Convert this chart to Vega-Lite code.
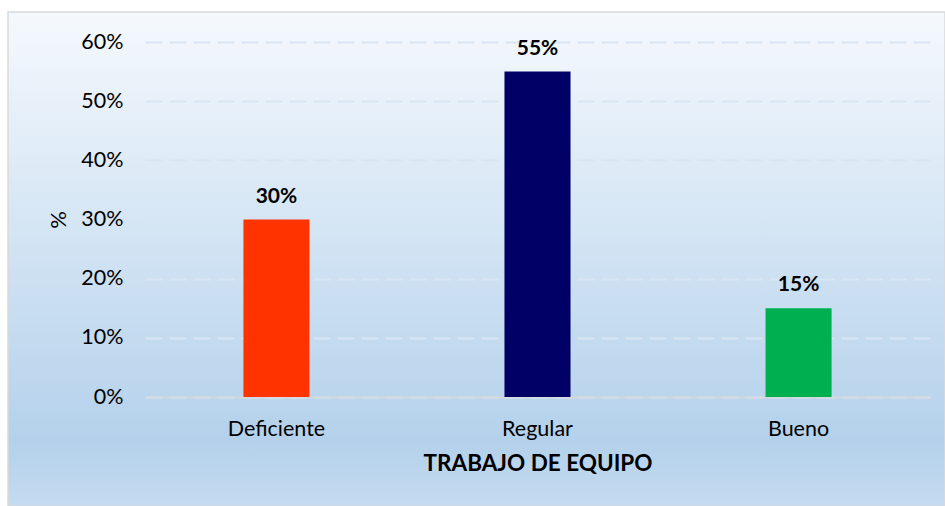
{
  "$schema": "https://vega.github.io/schema/vega-lite/v6.json",
  "autosize": "none",
  "width": 937,
  "height": 494,
  "padding": {"left": 8, "top": 12, "right": 0, "bottom": 0},
  "background": "white",
  "data": {
    "values": [
      {"categoria": "Deficiente", "valor": 0.30},
      {"categoria": "Regular", "valor": 0.55},
      {"categoria": "Bueno", "valor": 0.15}
    ]
  },
  "encoding": {
    "x": {
      "field": "categoria",
      "type": "nominal",
      "sort": null,
      "scale": {"range": [137, 922], "paddingInner": 0.747, "paddingOuter": 0.377},
      "axis": {
        "title": "TRABAJO DE EQUIPO",
        "orient": "bottom",
        "offset": -109,
        "labelAngle": 0,
        "ticks": false,
        "domain": true,
        "domainColor": "#d9d9d9",
        "domainWidth": 1.5,
        "labelPadding": 21,
        "labelFont": "Lato",
        "labelFontSize": 21.5,
        "labelColor": "#000000",
        "titleFont": "Lato",
        "titleFontSize": 22.5,
        "titleFontWeight": "bold",
        "titleColor": "#000000",
        "titlePadding": 13
      }
    },
    "y": {
      "field": "valor",
      "type": "quantitative",
      "scale": {"domain": [0, 0.6], "range": [385, 30], "nice": false, "zero": true},
      "axis": {
        "title": "%",
        "orient": "left",
        "offset": -137,
        "values": [0, 0.1, 0.2, 0.3, 0.4, 0.5, 0.6],
        "format": ".0%",
        "ticks": false,
        "domain": false,
        "grid": true,
        "gridColor": "#d9e5f3",
        "gridDash": [17, 7],
        "gridWidth": 2,
        "labelPadding": 22,
        "labelFont": "Lato",
        "labelFontSize": 21.5,
        "labelColor": "#000000",
        "titleFont": "Lato",
        "titleFontSize": 22,
        "titleFontWeight": "normal",
        "titleColor": "#000000",
        "titlePadding": 10
      }
    }
  },
  "layer": [
    {
      "mark": {"type": "bar"},
      "encoding": {
        "color": {
          "field": "categoria",
          "type": "nominal",
          "scale": {"domain": ["Deficiente", "Regular", "Bueno"], "range": ["#ff3300", "#000066", "#00b050"]},
          "legend": null
        }
      }
    },
    {
      "mark": {"type": "text", "dy": -17, "baseline": "alphabetic", "font": "Lato", "fontSize": 21, "fontWeight": "bold", "color": "#000000"},
      "encoding": {
        "text": {"field": "valor", "type": "quantitative", "format": ".0%"}
      }
    }
  ],
  "config": {
    "view": {
      "stroke": "#d9d9d9",
      "strokeWidth": 1.5,
      "fill": {
        "gradient": "linear",
        "x1": 0, "y1": 0, "x2": 0, "y2": 1,
        "stops": [
          {"offset": 0, "color": "#f5f9fd"},
          {"offset": 0.87, "color": "#b4d1eb"},
          {"offset": 1, "color": "#c4dbf0"}
        ]
      }
    }
  }
}
